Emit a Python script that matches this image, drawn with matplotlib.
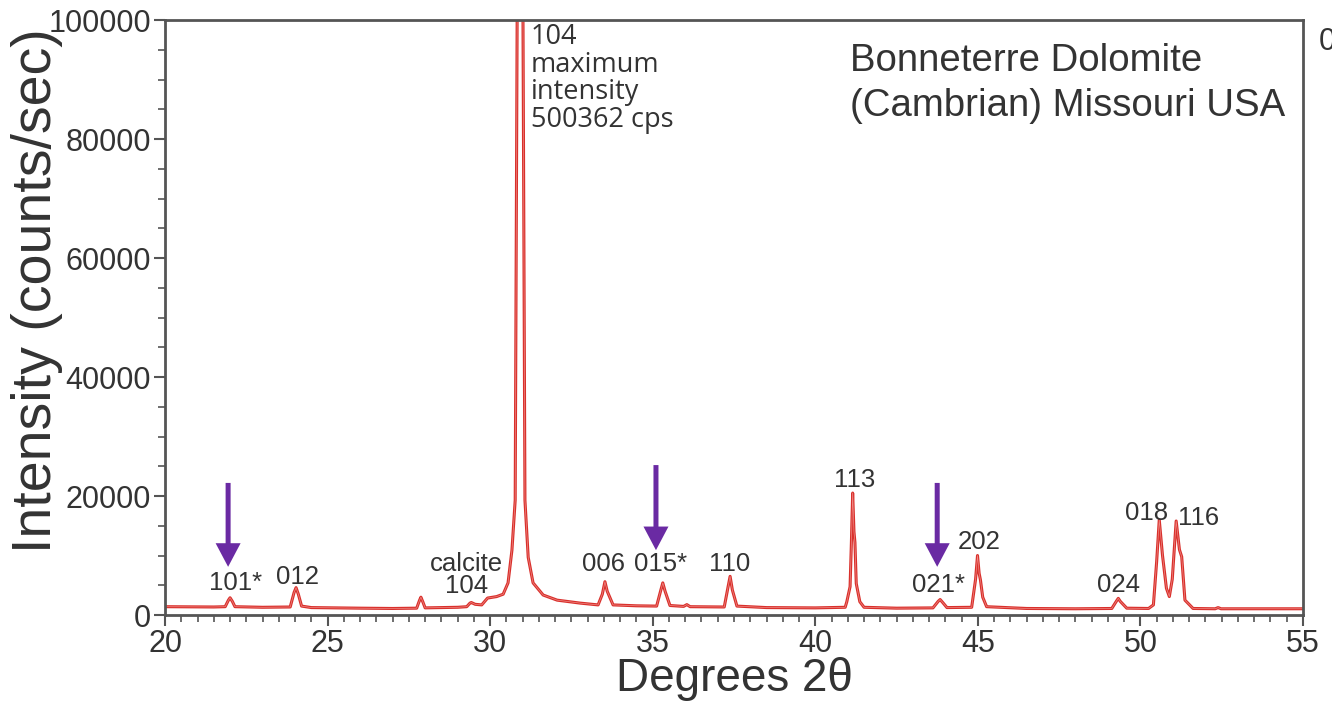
import matplotlib
matplotlib.use('Agg')
import matplotlib.pyplot as plt
from matplotlib.ticker import MultipleLocator

plt.rcParams['font.family'] = ['Liberation Sans', 'DejaVu Sans']

two_theta = [20.0, 21.5, 21.85, 21.95, 22.0, 22.07, 22.15, 23.0, 23.85, 23.97,
             24.03, 24.1, 24.2, 24.5, 26.0, 27.0, 27.74, 27.83, 27.87, 27.93,
             28.0, 29.0, 29.28, 29.38, 29.42, 29.54, 29.74, 29.85, 29.92, 30.2,
             30.4, 30.55, 30.67, 30.77, 30.83, 30.92, 31.01, 31.07, 31.17, 31.32,
             31.63, 32.06, 32.77, 33.32, 33.45, 33.53, 33.6, 33.78, 34.5, 35.12,
             35.25, 35.31, 35.38, 35.53, 35.95, 36.05, 36.15, 37.2, 37.32, 37.38,
             37.45, 37.59, 38.5, 40.0, 40.92, 40.97, 41.07, 41.11, 41.15, 41.19,
             41.22, 41.26, 41.37, 41.5, 42.5, 43.62, 43.78, 43.84, 43.92, 44.05,
             44.81, 44.93, 44.99, 45.04, 45.08, 45.15, 45.27, 46.5, 48.0, 49.12,
             49.27, 49.32, 49.38, 49.58, 50.25, 50.4, 50.5, 50.58, 50.68, 50.8,
             50.89, 50.98, 51.1, 51.2, 51.27, 51.37, 51.62, 52.3, 52.39, 52.48,
             53.5, 55.0]
intensity = [1400, 1350, 1400, 2500, 2900, 2300, 1400, 1300, 1350, 3800,
             4600, 3500, 1500, 1250, 1150, 1100, 1150, 2500, 3000, 2200,
             1200, 1300, 1400, 2000, 2100, 1800, 1700, 2400, 2850, 3100,
             3500, 5400, 10900, 19300, 100000, 500362, 100000, 19300, 9700, 5400,
             3360, 2500, 2000, 1700, 3500, 5600, 4000, 1700, 1550, 1500,
             4200, 5400, 4000, 1600, 1450, 1750, 1400, 1350, 4800, 6500,
             4200, 1500, 1250, 1200, 1300, 2240, 4760, 12000, 20500, 14000,
             12200, 5300, 2240, 1300, 1150, 1200, 2300, 2600, 2100, 1250,
             1300, 6000, 10000, 7000, 5900, 3000, 1400, 1100, 1050, 1100,
             2400, 2800, 2300, 1150, 1100, 1700, 9000, 16000, 10000, 4500,
             3100, 6000, 15800, 11000, 9800, 2500, 1100, 1050, 1250, 1050,
             1050, 1050]

# peak labels
peak_labels = ['101*', '012', 'calcite', '104', '006', '015*', '110', '113',
               '021*', '202', '024', '018', '116']
label_x = [22.18, 24.06, 29.28, 29.28, 33.48, 35.25, 37.38, 41.2,
           43.78, 45.04, 49.33, 50.2, 51.8]
label_y = [5400, 6400, 8600, 4800, 8600, 8600, 8600, 22700,
           5000, 12300, 5000, 17100, 16300]

# purple arrows marking the starred reflections
arrow_x = [21.94, 35.1, 43.75]
arrow_top = [22200, 25200, 22200]
arrow_tip = [8100, 10900, 8100]

red = '#d9302c'
purple = '#6a2aa3'
grey = '#333333'

fig = plt.figure(figsize=(13.32, 7.07), dpi=100)
ax = fig.add_axes([0.1239, 0.1301, 0.8543, 0.8416])

ax.plot(two_theta, intensity, color=red, lw=2.2)
ax.plot(two_theta, intensity, color='#ef8a85', lw=0.5)

for t, x, y in zip(peak_labels, label_x, label_y):
    ax.text(x, y, t, ha='center', va='center', fontsize=18.5, color=grey)

for x, y0, y1 in zip(arrow_x, arrow_top, arrow_tip):
    ax.annotate('', xy=(x, y1), xytext=(x, y0),
                arrowprops=dict(width=3.6, headwidth=18, headlength=17,
                                shrink=0, color=purple, lw=0))

ax.text(31.25, 99500, '104\nmaximum\nintensity\n500362 cps', ha='left', va='top',
        fontsize=19.5, color=grey, family=['Open Sans', 'DejaVu Sans'], linespacing=0.98)
ax.text(41.07, 89300, 'Bonneterre Dolomite\n(Cambrian) Missouri USA', ha='left',
        va='center', fontsize=27.6, color=grey, linespacing=1.32)

ax.set_xlim(20, 55)
ax.set_ylim(0, 100000)
ax.xaxis.set_major_locator(MultipleLocator(5))
ax.xaxis.set_minor_locator(MultipleLocator(0.5))
ax.yaxis.set_major_locator(MultipleLocator(20000))
ax.yaxis.set_minor_locator(MultipleLocator(5000))
ax.tick_params(which='major', direction='out', length=8, width=1.5, color='#555555',
               labelsize=22, labelcolor=grey, pad=2)
ax.tick_params(which='minor', direction='out', length=5, width=1.2, color='#555555')
for s in ax.spines.values():
    s.set_color('#555555')
    s.set_linewidth(2)

ax.set_xlabel('Degrees 2\u03b8', fontsize=33, color=grey)
ax.xaxis.set_label_coords(0.5, -0.07)
ax.set_ylabel('Intensity (counts/sec)', fontsize=40, color=grey)
ax.yaxis.set_label_coords(-0.09, 0.546)

# edge of neighbouring panel, cut off in the original
fig.text(0.99, 0.94, '0', fontsize=22, color=grey, ha='left', va='center')

fig.savefig('out.png', dpi=100)
